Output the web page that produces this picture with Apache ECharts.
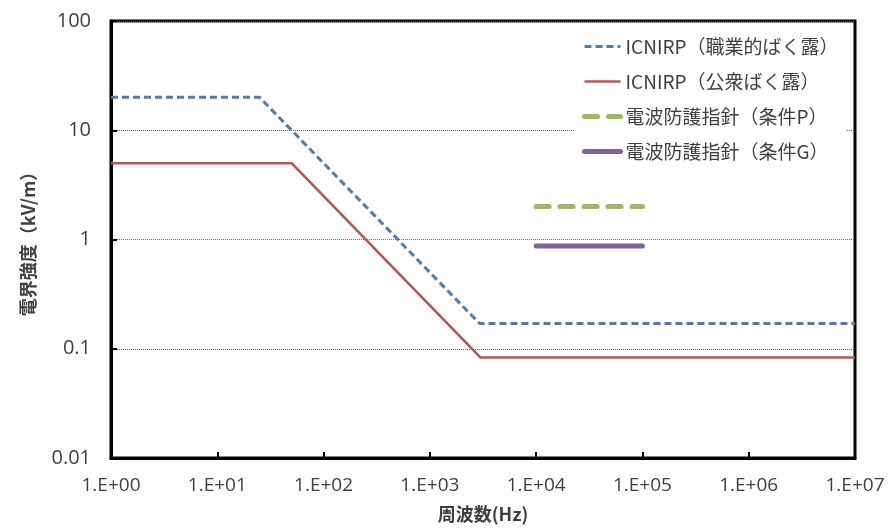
<!DOCTYPE html>
<html>
<head>
<meta charset="utf-8">
<script src="https://cdn.jsdelivr.net/npm/echarts@6/dist/echarts.min.js"></script>
<style>
  html, body { margin: 0; padding: 0; background: #fff; }
  #chart-container { width: 888px; height: 530px; }
</style>
</head>
<body>
<div id="chart-container"></div>
<script>
// 周波数の目盛り(1〜1e7 Hz)
const xTickLabels = ['1.E+00', '1.E+01', '1.E+02', '1.E+03', '1.E+04', '1.E+05', '1.E+06', '1.E+07'];
const yTickLabels = ['0.01', '0.1', '1', '10', '100'];

const seriesNames = ['ICNIRP（職業的ばく露）', 'ICNIRP（公衆ばく露）', '電波防護指針（条件P）', '電波防護指針（条件G）'];

// [周波数 Hz, 電界強度 kV/m]
const icnirpOccupational = [[1, 20], [25, 20], [2940, 0.17], [1e7, 0.17]];
const icnirpPublic = [[1, 5], [50, 5], [3000, 0.083], [1e7, 0.083]];
const guidelineP = [[1e4, 2], [1e5, 2]];
const guidelineG = [[1e4, 0.87], [1e5, 0.87]];

const font = '"Noto Sans CJK JP", "Noto Sans", sans-serif';
const numFont = '"Open Sans", sans-serif';
const textColor = '#404040';

const chartOption = {
  animation: false,
  textStyle: { fontFamily: font },
  grid: {
    left: 111, top: 21, right: 33, bottom: 72,
    show: true, borderColor: '#000', borderWidth: 3
  },
  legend: {
    orient: 'vertical',
    left: 574, top: 31,
    itemWidth: 36, itemHeight: 14,
    itemGap: 16,
    backgroundColor: '#fff',
    padding: [6, 8, 6, 8],
    itemStyle: { opacity: 0 },
    lineStyle: { width: 'inherit' },
    textStyle: { fontSize: 19, color: textColor, fontFamily: font },
    data: seriesNames
  },
  xAxis: {
    type: 'log',
    logBase: 10,
    min: 1, max: 1e7,
    splitNumber: 7,
    name: '周波数(Hz)',
    nameLocation: 'middle',
    nameGap: 47,
    nameTextStyle: { fontSize: 18, fontWeight: 'bold', color: textColor, fontFamily: font },
    axisLine: { lineStyle: { color: '#000', width: 3 } },
    axisTick: { inside: true, length: 6, lineStyle: { color: '#000', width: 2 } },
    axisLabel: {
      margin: 18, fontSize: 19, color: textColor, fontFamily: numFont,
      formatter: v => xTickLabels[Math.round(Math.log10(v))]
    },
    splitLine: { show: false },
    minorTick: { show: false }
  },
  yAxis: {
    type: 'log',
    logBase: 10,
    min: 0.01, max: 100,
    splitNumber: 4,
    name: '電界強度（kV/m）',
    nameLocation: 'middle',
    nameRotate: 90,
    nameGap: 74,
    nameTextStyle: { fontSize: 18, fontWeight: 'bold', color: textColor, fontFamily: font },
    axisLine: { lineStyle: { color: '#000', width: 3 } },
    axisTick: { inside: true, length: 6, lineStyle: { color: '#000', width: 2 } },
    axisLabel: {
      margin: 20, fontSize: 20, color: textColor, fontFamily: numFont,
      formatter: v => yTickLabels[Math.round(Math.log10(v)) + 2]
    },
    splitLine: { show: true, lineStyle: { color: '#666', type: [1, 1], width: 1 } }
  },
  series: [
    {
      name: seriesNames[0], type: 'line', symbol: 'none', data: icnirpOccupational,
      itemStyle: { color: '#4a7ebb' },
      lineStyle: { color: '#4a7ebb', width: 3, type: [7, 4] }
    },
    {
      name: seriesNames[1], type: 'line', symbol: 'none', data: icnirpPublic,
      itemStyle: { color: '#c0504d' },
      lineStyle: { color: '#c0504d', width: 2.5 }
    },
    {
      name: seriesNames[2], type: 'line', symbol: 'none', data: guidelineP,
      itemStyle: { color: '#9bbb59' },
      lineStyle: { color: '#9bbb59', width: 5, type: [13, 11], cap: 'round' }
    },
    {
      name: seriesNames[3], type: 'line', symbol: 'none', data: guidelineG,
      itemStyle: { color: '#8064a2' },
      lineStyle: { color: '#8064a2', width: 5, cap: 'round' }
    }
  ]
};

const chartContainer = document.getElementById('chart-container');
const chart = echarts.init(chartContainer);
chart.setOption(chartOption);
</script>
</body>
</html>
